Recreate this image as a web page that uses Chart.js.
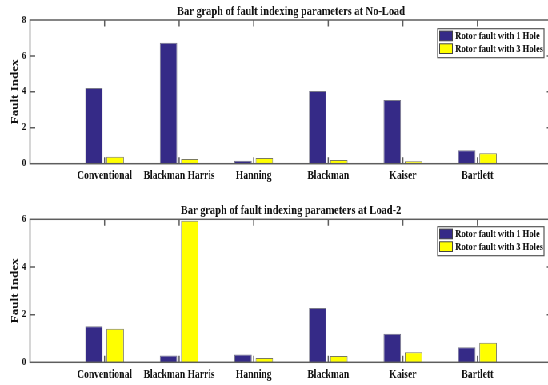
<!DOCTYPE html>
<html>
<head>
<meta charset="utf-8">
<script src="https://cdn.jsdelivr.net/npm/chart.js@4/dist/chart.umd.min.js"></script>
<style>
  html, body { margin: 0; padding: 0; background: #fff; overflow: hidden; width: 548px; height: 385px; }
  #wrap { width: 700px; transform: scaleX(0.8); transform-origin: 0 0; }
  canvas { display: block; }
</style>
</head>
<body>
<div id="wrap">
  <canvas id="noLoad" width="700" height="190"></canvas>
  <canvas id="load2" width="700" height="195"></canvas>
</div>
<script>
// Windowing methods compared
const categories = ['Conventional', 'Blackman Harris', 'Hanning', 'Blackman', 'Kaiser', 'Bartlett'];
const seriesNames = ['Rotor fault with 1 Hole', 'Rotor fault with 3 Holes'];

// Fault index at no load
const noLoadOneHole   = [4.21, 6.74, 0.17, 4.05, 3.55, 0.75];
const noLoadThreeHole = [0.39, 0.26, 0.32, 0.20, 0.13, 0.58];

// Fault index at load-2
const load2OneHole   = [1.51, 0.29, 0.33, 2.28, 1.20, 0.63];
const load2ThreeHole = [1.41, 5.94, 0.18, 0.26, 0.42, 0.82];

const yTicksNoLoad = { max: 8, step: 2 };
const yTicksLoad2 = { max: 6, step: 2 };

const BLUE = '#352a87';
const YELLOW = '#ffff00';
const AXIS = '#5e5e5e';

Chart.defaults.font.family = "'Liberation Serif', 'Times New Roman', serif";
Chart.defaults.font.weight = 'bold';
Chart.defaults.color = '#111';

// empty slots at both ends give the axis a 0..N+1 range
const slotLabels = ['', ...categories, ''];
const pad = arr => [null, ...arr, null];

// inward tick marks on all four sides, drawn under the bars
const axisTicks = {
  id: 'axisTicks',
  beforeDatasetsDraw(chart) {
    const { ctx, chartArea: a, scales: { x, y } } = chart;
    ctx.save();
    ctx.strokeStyle = AXIS;
    ctx.lineWidth = 1.5;
    ctx.beginPath();
    for (let i = 1; i <= categories.length; i++) {
      const px = x.getPixelForValue(i);
      ctx.moveTo(px, a.bottom); ctx.lineTo(px, a.bottom - 6.5);
      ctx.moveTo(px, a.top); ctx.lineTo(px, a.top + 6.5);
    }
    y.ticks.forEach(t => {
      if (t.value > y.min && t.value < y.max) {
        const py = y.getPixelForValue(t.value);
        ctx.moveTo(a.left, py); ctx.lineTo(a.left + 6.5, py);
        ctx.moveTo(a.right, py); ctx.lineTo(a.right - 6.5, py);
      }
    });
    ctx.stroke();
    ctx.restore();
  },
  afterDatasetsDraw(chart) {
    const { ctx, chartArea: a } = chart;
    ctx.save();
    ctx.strokeStyle = AXIS;
    ctx.lineWidth = 1.5;
    ctx.strokeRect(a.left, a.top, a.right - a.left, a.bottom - a.top);
    ctx.restore();
  }
};

// boxed legend in the upper right corner of the plot area
const boxLegend = {
  id: 'boxLegend',
  afterDraw(chart, args, opts) {
    const { ctx, chartArea: a } = chart;
    const w = 133, h = 29;
    const lx = a.right - 10 - w;
    const ly = a.top + opts.offsetY;
    ctx.save();
    ctx.fillStyle = '#fff';
    ctx.fillRect(lx, ly, w, h);
    ctx.strokeStyle = '#555';
    ctx.lineWidth = 1.2;
    ctx.strokeRect(lx, ly, w, h);
    ctx.font = "bold 10.7px 'Liberation Serif', serif";
    ctx.textBaseline = 'middle';
    ctx.textAlign = 'left';
    chart.data.datasets.forEach((ds, i) => {
      const sy = ly + 2.4 + i * 12.7;
      ctx.fillStyle = ds.backgroundColor;
      ctx.fillRect(lx + 2.5, sy, 16, 9.7);
      ctx.strokeStyle = '#444';
      ctx.lineWidth = 1;
      ctx.strokeRect(lx + 2.5, sy, 16, 9.7);
      ctx.fillStyle = '#111';
      ctx.fillText(ds.label, lx + 22, sy + 5);
    });
    ctx.restore();
  }
};

function makeChart(id, titleText, one, three, yr, geo) {
  return new Chart(document.getElementById(id), {
    type: 'bar',
    data: {
      labels: slotLabels,
      datasets: [
        { label: seriesNames[0], data: pad(one), backgroundColor: BLUE, borderColor: '#7a7a8a', borderWidth: 1 },
        { label: seriesNames[1], data: pad(three), backgroundColor: YELLOW, borderColor: '#7a7a60', borderWidth: 1 }
      ]
    },
    options: {
      responsive: false,
      animation: false,
      devicePixelRatio: 1,
      layout: { padding: { left: 0, right: 10, top: 0, bottom: 0 } },
      datasets: { bar: { categoryPercentage: 0.57, barPercentage: 0.82 } },
      plugins: {
        legend: { display: false },
        tooltip: { enabled: false },
        title: {
          display: true,
          text: titleText,
          fullSize: false,
          color: '#111',
          font: { size: 13, weight: 'bold' },
          padding: { top: geo.titleTop, bottom: geo.titleBottom }
        },
        boxLegend: { offsetY: geo.legendY }
      },
      scales: {
        x: {
          type: 'category',
          offset: false,
          grid: { display: false, drawTicks: false },
          border: { display: false },
          ticks: { autoSkip: false, maxRotation: 0, padding: 5, font: { size: 12 }, color: '#111' },
          afterFit: s => { s.height = geo.xHeight; }
        },
        y: {
          min: 0,
          max: yr.max,
          grid: { display: false, drawTicks: false },
          border: { display: false },
          ticks: { stepSize: yr.step, padding: 5, font: { size: 10 }, color: '#111' },
          title: { display: true, text: 'Fault Index', color: '#111', font: { size: 13, weight: 'bold' }, padding: { top: 11, bottom: 0 } },
          afterFit: s => { s.width = 37.5; }
        }
      }
    },
    plugins: [axisTicks, boxLegend]
  });
}

makeChart('noLoad', 'Bar graph of fault indexing parameters at No-Load',
  noLoadOneHole, noLoadThreeHole, yTicksNoLoad,
  { titleTop: 4.2, titleBottom: 0.2, xHeight: 26.3, legendY: 8.7 });

makeChart('load2', 'Bar graph of fault indexing parameters at Load-2',
  load2OneHole, load2ThreeHole, yTicksLoad2,
  { titleTop: 12.9, titleBottom: 0.8, xHeight: 22.7, legendY: 7.4 });
</script>
</body>
</html>
